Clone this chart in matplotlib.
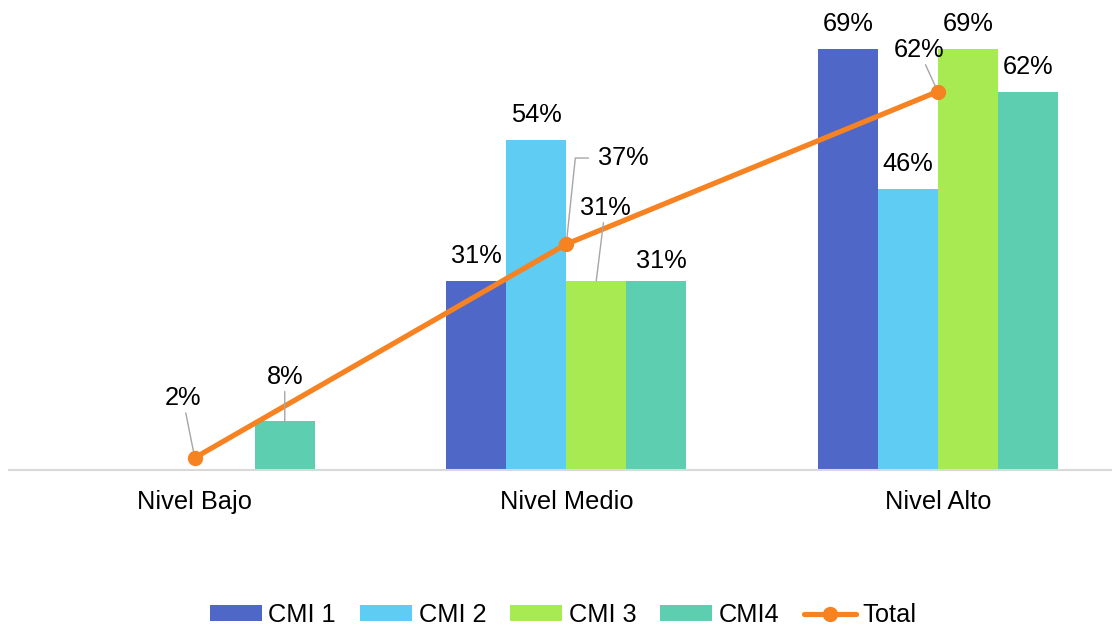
import matplotlib
matplotlib.use("Agg")
import matplotlib.pyplot as plt
import numpy as np

plt.rcParams['font.family'] = ['Liberation Sans', 'DejaVu Sans']

niveles = ["Nivel Bajo", "Nivel Medio", "Nivel Alto"]
series = ["CMI 1", "CMI 2", "CMI 3", "CMI4"]
cmi1 = [0.00, 0.31, 0.69]
cmi2 = [0.00, 0.54, 0.46]
cmi3 = [0.00, 0.31, 0.69]
cmi4 = [0.08, 0.31, 0.62]
total = [0.02, 0.37, 0.62]

colores = ["#4F67C7", "#5ECCF3", "#A8EA52", "#5DCEAF"]
naranja = "#F68221"
gris = "#A6A6A6"

fig = plt.figure(figsize=(11.12, 6.27), dpi=100)
ax = fig.add_axes([9 / 1112, 157 / 627, 1103 / 1112, 470 / 627])

x = np.arange(len(niveles))
w = 0.1615
datos = [cmi1, cmi2, cmi3, cmi4]

# offsets (points) for the bar labels; a few sit off to the side with a leader
ajustes = {(3, 0): (0, 32, True), (2, 1): (6.5, 52.5, True), (3, 1): (4, 14.5, False)}

fs = 18.3
handles = []
for i, (vals, col, nom) in enumerate(zip(datos, colores, series)):
    pos = x + (i - 1.5) * w
    handles.append(ax.bar(pos, vals, width=w, color=col, label=nom, zorder=2))
    for j, v in enumerate(vals):
        if v == 0:
            continue
        dx, dy, guia = ajustes.get((i, j), (0, 18, False))
        kw = dict(xy=(pos[j], v), xytext=(dx, dy), textcoords="offset points",
                  ha="center", va="center", fontsize=fs, zorder=5)
        if guia:
            kw["arrowprops"] = dict(arrowstyle="-", color=gris, lw=1,
                                    shrinkA=0, shrinkB=0)
        ax.annotate(f"{v:.0%}", **kw)

linea, = ax.plot(x, total, color=naranja, lw=3.75, marker="o", markersize=10,
                 label="Total", zorder=4, solid_capstyle="round")
handles.append(linea)

# Total labels with leader lines
ax.annotate(f"{total[0]:.0%}", xy=(x[0], total[0]), xytext=(-8.6, 43),
            textcoords="offset points", ha="center", va="center", fontsize=fs,
            arrowprops=dict(arrowstyle="-", color=gris, lw=1, shrinkA=0, shrinkB=3))
ax.annotate(f"{total[1]:.0%}", xy=(x[1], total[1]), xytext=(23, 62),
            textcoords="offset points", ha="left", va="center", fontsize=fs,
            arrowprops=dict(arrowstyle="-", color=gris, lw=1, shrinkA=5, shrinkB=3,
                            relpos=(0, 0.5),
                            connectionstyle="angle,angleA=0,angleB=84,rad=0"))
ax.annotate(f"{total[2]:.0%}", xy=(x[2], total[2]), xytext=(-13.7, 30),
            textcoords="offset points", ha="center", va="center", fontsize=fs,
            arrowprops=dict(arrowstyle="-", color=gris, lw=1, shrinkA=0, shrinkB=3))

ax.set_xlim(-0.5, 2.469)
ax.set_ylim(0, 0.77)
ax.set_xticks(x)
ax.set_xticklabels(niveles, fontsize=fs)
ax.tick_params(axis="x", length=0, pad=14.5)
ax.set_yticks([])
for s in ["top", "left", "right"]:
    ax.spines[s].set_visible(False)
ax.spines["bottom"].set_color("#D9D9D9")
ax.spines["bottom"].set_linewidth(1.5)

fig.legend(handles=handles, loc="center", bbox_to_anchor=(563 / 1112, 1 - 615 / 627),
           ncol=5, frameon=False, fontsize=fs, handlelength=2.05, handleheight=0.55,
           handletextpad=0.25, columnspacing=0.95)

fig.savefig("out.png", dpi=100)
